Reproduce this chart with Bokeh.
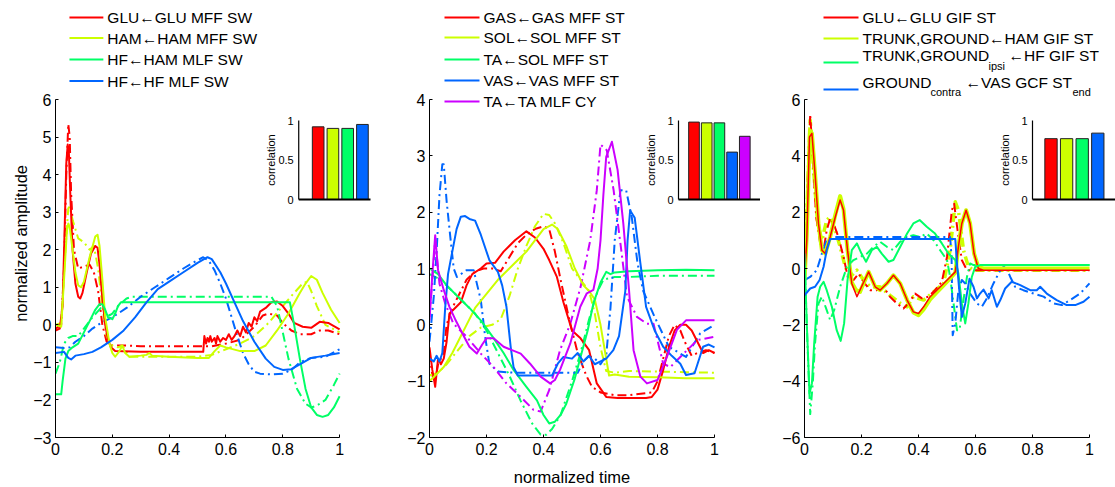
import math
from bokeh.plotting import figure
from bokeh.layouts import row, column
from bokeh.models import Range1d, FixedTicker, CustomJSTickFormatter
from bokeh.core.properties import value
from bokeh.embed import file_html
from bokeh.resources import INLINE

FONT = "Liberation Sans"
RED, YEL, GRN, BLU, PUR = "#ff0000", "#ccff00", "#00ff66", "#0066ff", "#cc00ff"

x_ticks = [0, 0.2, 0.4, 0.6, 0.8, 1]
p1_yticks = [-3, -2, -1, 0, 1, 2, 3, 4, 5, 6]
p2_yticks = [-2, -1, 0, 1, 2, 3, 4]
p3_yticks = [-6, -4, -2, 0, 2, 4, 6]
y_label = "normalized amplitude"
x_label = "normalized time"

# ---------------- panel 1 (swing) ----------------
p1_glu = [(0, -0.15), (0.015, -0.1), (0.025, 0.5), (0.032, 2.5), (0.038, 4.3), (0.043, 4.8), (0.047, 4.6),
          (0.052, 3.5), (0.06, 2.0), (0.07, 1.1), (0.08, 0.75), (0.087, 0.7), (0.095, 0.85), (0.11, 1.4),
          (0.125, 1.9), (0.14, 2.1), (0.148, 2.05), (0.155, 1.6), (0.165, 0.7), (0.175, 0.0), (0.185, -0.4),
          (0.195, -0.6), (0.21, -0.7), (0.3, -0.72), (0.4, -0.72), (0.52, -0.72), (0.524, -0.3), (0.53, -0.5),
          (0.535, -0.35), (0.54, -0.45), (0.545, -0.3), (0.55, -0.45), (0.56, -0.35), (0.565, -0.5),
          (0.57, -0.3), (0.58, -0.45), (0.59, -0.35), (0.6, -0.4), (0.61, -0.25), (0.62, -0.4), (0.63, -0.3),
          (0.64, -0.15), (0.65, -0.3), (0.66, -0.05), (0.67, -0.2), (0.68, 0.05), (0.69, -0.05), (0.7, 0.2),
          (0.71, 0.1), (0.72, 0.35), (0.74, 0.45), (0.76, 0.6), (0.78, 0.62), (0.8, 0.5), (0.82, 0.3),
          (0.84, 0.05), (0.87, -0.05), (0.9, -0.08), (0.93, 0.08), (0.96, 0.05), (1.0, -0.12)]
p1_glu_pred = [(0, -0.1), (0.02, 0.0), (0.03, 1.5), (0.038, 4.0), (0.045, 5.35), (0.05, 5.0), (0.055, 3.5),
               (0.065, 2.0), (0.08, 1.5), (0.1, 1.55), (0.12, 1.6), (0.135, 1.4), (0.15, 0.9), (0.165, 0.0),
               (0.18, -0.45), (0.2, -0.55), (0.25, -0.55), (0.3, -0.57), (0.4, -0.57), (0.5, -0.57),
               (0.55, -0.57), (0.6, -0.5), (0.65, -0.4), (0.7, -0.05), (0.73, 0.25), (0.75, 0.3), (0.78, 0.25),
               (0.8, 0.05), (0.83, -0.15), (0.86, -0.25), (0.9, -0.25), (0.93, -0.15), (0.96, -0.15), (1.0, -0.25)]
p1_ham = [(0, 0.0), (0.02, -0.05), (0.03, 1.2), (0.04, 2.5), (0.045, 2.7), (0.05, 2.6), (0.06, 2.0), (0.07, 1.4),
          (0.08, 1.05), (0.09, 1.0), (0.1, 1.15), (0.12, 1.8), (0.14, 2.35), (0.148, 2.4), (0.155, 2.1),
          (0.165, 1.2), (0.175, 0.2), (0.19, -0.5), (0.2, -0.75), (0.21, -0.85), (0.225, -0.7), (0.235, -0.55),
          (0.245, -0.75), (0.26, -0.85), (0.3, -0.82), (0.32, -0.8), (0.33, -0.75), (0.34, -0.82), (0.4, -0.85),
          (0.5, -0.88), (0.54, -0.88), (0.56, -0.7), (0.58, -0.55), (0.6, -0.6), (0.65, -0.7), (0.7, -0.7),
          (0.74, -0.55), (0.78, -0.15), (0.82, 0.3), (0.86, 0.85), (0.88, 1.1), (0.9, 1.3), (0.92, 1.2),
          (0.94, 0.85), (0.97, 0.4), (1.0, 0.05)]
p1_ham_pred = [(0, 0.0), (0.02, 0.05), (0.035, 2.0), (0.045, 3.1), (0.05, 3.15), (0.06, 2.8), (0.08, 2.3),
               (0.1, 2.2), (0.12, 2.0), (0.135, 2.1), (0.15, 1.5), (0.165, 0.5), (0.18, -0.3), (0.2, -0.55),
               (0.22, -0.6), (0.235, -0.55), (0.26, -0.85), (0.3, -0.85), (0.4, -0.85), (0.5, -0.85),
               (0.55, -0.8), (0.6, -0.65), (0.65, -0.5), (0.7, -0.3), (0.75, 0.05), (0.8, 0.5), (0.84, 0.85),
               (0.87, 1.1), (0.885, 1.15), (0.9, 0.9), (0.92, 0.5), (0.95, 0.0), (1.0, -0.2)]
p1_hfham = [(0, -1.85), (0.02, -1.85), (0.025, -1.5), (0.035, -0.9), (0.045, -0.7), (0.06, -0.6), (0.08, -0.5),
            (0.1, -0.2), (0.12, 0.1), (0.14, 0.4), (0.155, 0.55), (0.165, 0.55), (0.175, 0.4), (0.185, 0.2),
            (0.2, 0.15), (0.21, 0.3), (0.22, 0.5), (0.23, 0.6), (0.25, 0.6), (0.4, 0.6), (0.6, 0.6), (0.8, 0.6),
            (0.825, 0.6), (0.84, 0.0), (0.86, -0.9), (0.88, -1.7), (0.9, -2.2), (0.92, -2.4), (0.94, -2.45),
            (0.96, -2.4), (0.98, -2.2), (1.0, -1.9)]
p1_hfham_pred = [(0, -1.3), (0.015, -1.0), (0.03, -0.5), (0.045, -0.35), (0.06, -0.3), (0.08, -0.3),
                 (0.1, -0.1), (0.13, 0.2), (0.16, 0.45), (0.175, 0.35), (0.19, 0.25), (0.2, 0.3), (0.22, 0.5),
                 (0.25, 0.7), (0.27, 0.75), (0.4, 0.75), (0.6, 0.75), (0.76, 0.75), (0.78, 0.5), (0.8, -0.2),
                 (0.82, -0.9), (0.85, -1.7), (0.88, -2.1), (0.9, -2.2), (0.92, -2.15), (0.95, -2.0),
                 (0.98, -1.6), (1.0, -1.3)]
p1_hf = [(0, -0.75), (0.03, -0.72), (0.045, -0.88), (0.055, -0.92), (0.07, -0.82), (0.1, -0.78), (0.13, -0.72),
         (0.16, -0.6), (0.2, -0.4), (0.24, -0.15), (0.28, 0.2), (0.32, 0.6), (0.36, 0.95), (0.4, 1.15),
         (0.45, 1.4), (0.5, 1.65), (0.535, 1.8), (0.55, 1.75), (0.58, 1.4), (0.6, 1.1), (0.63, 0.6), (0.66, 0.1),
         (0.7, -0.45), (0.74, -0.9), (0.77, -1.12), (0.8, -1.2), (0.83, -1.18), (0.86, -1.05), (0.9, -0.88),
         (0.95, -0.82), (1.0, -0.75)]
p1_hf_pred = [(0, -0.6), (0.03, -0.62), (0.05, -0.6), (0.07, -0.45), (0.1, -0.3), (0.13, -0.1), (0.16, 0.05),
              (0.2, 0.2), (0.25, 0.45), (0.3, 0.75), (0.35, 1.0), (0.4, 1.25), (0.45, 1.5), (0.5, 1.72),
              (0.52, 1.8), (0.54, 1.7), (0.56, 1.45), (0.58, 1.1), (0.6, 0.7), (0.62, 0.2), (0.64, -0.3),
              (0.66, -0.75), (0.68, -1.05), (0.7, -1.25), (0.72, -1.3), (0.76, -1.32), (0.8, -1.3), (0.83, -1.2),
              (0.86, -1.0), (0.9, -0.88), (0.95, -0.85), (1.0, -0.65)]

# ---------------- panel 2 (stance) ----------------
p2_gas = [(0, -0.4), (0.01, -0.8), (0.02, -1.1), (0.03, -0.6), (0.04, -0.7), (0.05, -0.6), (0.06, -0.3), (0.07, 0.2),
          (0.09, 0.3), (0.11, 0.4), (0.13, 0.7), (0.15, 0.9), (0.18, 1.0), (0.2, 1.09), (0.23, 1.1), (0.26, 1.3),
          (0.3, 1.5), (0.34, 1.66), (0.37, 1.55), (0.4, 1.35), (0.42, 1.15), (0.447, 0.85), (0.47, 0.4),
          (0.5, -0.1), (0.53, -0.24), (0.56, -0.45), (0.587, -1.04), (0.62, -1.28), (0.66, -1.3), (0.7, -1.3),
          (0.76, -1.3), (0.78, -1.28), (0.8, -1.15), (0.82, -0.8), (0.84, -0.4), (0.86, -0.1), (0.88, 0.0),
          (0.9, 0.0), (0.92, -0.1), (0.94, -0.3), (0.96, -0.5), (0.98, -0.45), (1.0, -0.5)]
p2_gas_pred = [(0, -0.5), (0.01, -0.9), (0.02, -1.0), (0.03, -0.7), (0.05, -0.5), (0.06, 0.0), (0.08, 0.3),
               (0.1, 0.5), (0.13, 0.8), (0.16, 0.95), (0.19, 1.0), (0.22, 1.0), (0.25, 0.95), (0.28, 1.2),
               (0.31, 1.45), (0.34, 1.6), (0.37, 1.7), (0.4, 1.75), (0.42, 1.7), (0.44, 1.3), (0.46, 0.8),
               (0.49, 0.1), (0.52, -0.5), (0.55, -0.9), (0.57, -1.1), (0.6, -1.2), (0.65, -1.25), (0.7, -1.25),
               (0.78, -1.2), (0.8, -1.0), (0.82, -0.6), (0.84, -0.2), (0.86, 0.0), (0.88, -0.1), (0.9, -0.35),
               (0.92, -0.55), (0.94, -0.5), (0.97, -0.45), (1.0, -0.5)]
p2_sol = [(0, -1.0), (0.02, -0.9), (0.05, -0.75), (0.08, -0.5), (0.1, -0.3), (0.13, 0.0), (0.16, 0.3), (0.2, 0.55),
          (0.24, 0.8), (0.28, 1.0), (0.31, 1.15), (0.34, 1.3), (0.37, 1.5), (0.4, 1.7), (0.43, 1.78), (0.45, 1.7),
          (0.48, 1.4), (0.51, 1.0), (0.54, 0.7), (0.56, 0.6), (0.58, 0.45), (0.6, 0.0), (0.62, -0.6),
          (0.63, -0.9), (0.65, -0.88), (0.7, -0.92), (0.8, -0.93), (0.9, -0.95), (1.0, -0.95)]
p2_sol_pred = [(0, -0.9), (0.03, -0.85), (0.06, -0.7), (0.1, -0.45), (0.14, -0.2), (0.18, -0.05), (0.22, 0.0),
               (0.25, 0.1), (0.28, 0.5), (0.31, 1.0), (0.34, 1.4), (0.37, 1.75), (0.4, 1.97), (0.42, 1.95),
               (0.44, 1.8), (0.47, 1.45), (0.5, 1.0), (0.53, 0.8), (0.56, 0.6), (0.58, 0.2), (0.6, -0.4),
               (0.62, -0.82), (0.65, -0.85), (0.7, -0.82), (0.8, -0.83), (0.9, -0.84), (1.0, -0.85)]
p2_tasol = [(0, 1.0), (0.03, 0.9), (0.06, 0.7), (0.1, 0.5), (0.14, 0.3), (0.18, 0.08), (0.22, -0.2), (0.26, -0.5),
            (0.295, -0.8), (0.34, -1.1), (0.377, -1.34), (0.4, -1.6), (0.42, -1.75), (0.44, -1.72), (0.46, -1.6),
            (0.48, -1.4), (0.51, -0.95), (0.53, -0.57), (0.555, -0.1), (0.575, 0.38), (0.6, 0.75), (0.62, 0.94),
            (0.635, 0.9), (0.65, 0.93), (0.7, 0.95), (0.8, 0.97), (0.9, 0.98), (1.0, 0.97)]
p2_tasol_pred = [(0, 0.9), (0.04, 0.8), (0.08, 0.6), (0.12, 0.4), (0.16, 0.2), (0.2, -0.1), (0.24, -0.5),
                 (0.28, -0.9), (0.32, -1.35), (0.36, -1.75), (0.39, -1.95), (0.41, -1.95), (0.43, -1.85),
                 (0.46, -1.6), (0.5, -1.0), (0.53, -0.5), (0.56, 0.1), (0.59, 0.6), (0.61, 0.8), (0.65, 0.85),
                 (0.7, 0.85), (0.8, 0.87), (0.9, 0.87), (1.0, 0.87)]
p2_vas = [(0, -0.6), (0.015, -0.65), (0.025, -0.55), (0.035, -0.65), (0.045, -0.5), (0.055, 0.3), (0.065, 0.9),
          (0.08, 1.3), (0.095, 1.7), (0.11, 1.92), (0.125, 1.93), (0.14, 1.88), (0.16, 1.85), (0.18, 1.6),
          (0.21, 1.15), (0.24, 0.94), (0.255, 0.7), (0.27, 0.32), (0.285, -0.4), (0.295, -0.75), (0.31, -0.9),
          (0.36, -0.9), (0.43, -0.9), (0.45, -0.69), (0.47, -0.57), (0.5, -0.6), (0.52, -0.5), (0.54, -0.65),
          (0.56, -0.55), (0.58, -0.7), (0.6, -0.65), (0.62, -0.6), (0.645, -0.45), (0.665, -0.2), (0.687, 0.6),
          (0.695, 1.5), (0.704, 2.03), (0.72, 1.9), (0.74, 1.09), (0.76, 0.32), (0.79, -0.1), (0.82, -0.39),
          (0.85, -0.55), (0.88, -0.69), (0.9, -0.89), (0.93, -0.86), (0.96, -0.39), (0.98, -0.35), (1.0, -0.4)]
p2_vas_pred = [(0, -0.3), (0.015, 0.5), (0.025, 1.3), (0.035, 2.3), (0.045, 2.85), (0.05, 2.85), (0.06, 2.2),
               (0.073, 1.56), (0.085, 1.0), (0.096, 0.85), (0.11, 0.9), (0.13, 0.97), (0.155, 0.97), (0.18, 0.44),
               (0.195, -0.2), (0.21, -0.69), (0.24, -0.83), (0.3, -0.85), (0.4, -0.85), (0.52, -0.85),
               (0.54, -0.65), (0.56, -0.55), (0.58, -0.6), (0.6, -0.7), (0.62, -0.55), (0.635, 0.3), (0.65, 1.5),
               (0.67, 2.39), (0.69, 2.39), (0.71, 1.9), (0.73, 1.09), (0.75, 0.6), (0.79, 0.14), (0.84, -0.39),
               (0.9, -0.57), (0.95, -0.15), (1.0, 0.0)]
p2_ta = [(0, 0.08), (0.01, 0.9), (0.02, 1.59), (0.03, 0.97), (0.05, 0.62), (0.07, 0.32), (0.09, 0.1), (0.11, -0.1),
         (0.14, -0.39), (0.166, -0.51), (0.185, -0.35), (0.2, -0.24), (0.225, -0.24), (0.26, -0.39), (0.32, -0.51),
         (0.353, -0.69), (0.39, -0.92), (0.423, -1.04), (0.44, -0.98), (0.458, -0.8), (0.494, -0.33),
         (0.529, 0.32), (0.552, 0.56), (0.575, 0.62), (0.59, 1.0), (0.6, 1.5), (0.61, 2.3), (0.62, 2.98),
         (0.64, 3.25), (0.66, 2.75), (0.68, 1.8), (0.7, 0.62), (0.716, -0.45), (0.74, -0.92), (0.763, -1.04),
         (0.8, -0.98), (0.833, -0.57), (0.868, -0.09), (0.9, 0.08), (1.0, 0.08)]
p2_ta_pred = [(0, 0.14), (0.01, 0.8), (0.02, 1.5), (0.035, 0.73), (0.055, 0.38), (0.084, 0.02), (0.13, -0.21),
              (0.18, -0.51), (0.225, -0.75), (0.27, -1.04), (0.32, -1.28), (0.365, -1.51), (0.39, -1.54),
              (0.42, -1.16), (0.458, -0.45), (0.494, 0.02), (0.53, 0.67), (0.564, 1.5), (0.587, 2.39),
              (0.6, 3.2), (0.622, 3.1), (0.646, 2.39), (0.67, 1.44), (0.693, 0.5), (0.728, 0.14), (0.763, 0.02),
              (0.786, 0.02), (0.82, -0.69), (0.845, -0.75), (0.88, -0.57), (0.94, -0.27), (1.0, -0.21)]

# ---------------- panel 3 (stance, ground) ----------------
p3_glu = [(0, -0.41), (0.008, 1.0), (0.0175, 4.67), (0.026, 4.8), (0.037, 3.37), (0.049, 1.6), (0.061, 0.65),
          (0.073, 0.53), (0.09, 1.12), (0.108, 1.83), (0.125, 2.43), (0.137, 2.07), (0.151, 0.65), (0.166, -0.53),
          (0.184, -1.0), (0.2, -0.65), (0.225, -0.12), (0.248, -0.65), (0.265, -0.77), (0.289, -0.53),
          (0.312, -0.24), (0.336, -0.53), (0.36, -1.12), (0.382, -1.54), (0.4, -1.6), (0.418, -1.36),
          (0.441, -1.0), (0.464, -0.77), (0.488, -0.53), (0.511, -0.3), (0.529, -0.12), (0.54, 0.77),
          (0.552, 1.6), (0.567, 2.07), (0.581, 1.6), (0.595, 0.53), (0.61, 0.0), (0.628, -0.06), (1.0, -0.06)]
p3_ham = [(0, -0.41), (0.008, 1.2), (0.019, 4.9), (0.026, 4.8), (0.037, 3.37), (0.049, 1.6), (0.061, 0.65),
          (0.073, 0.53), (0.09, 1.12), (0.108, 1.9), (0.125, 2.57), (0.137, 2.1), (0.151, 0.65), (0.166, -0.5),
          (0.181, -0.77), (0.195, -0.83), (0.2, -0.7), (0.225, -0.12), (0.248, -0.65), (0.265, -0.77),
          (0.289, -0.53), (0.312, -0.24), (0.336, -0.53), (0.36, -1.12), (0.382, -1.56), (0.4, -1.66),
          (0.418, -1.45), (0.441, -1.1), (0.464, -0.85), (0.488, -0.6), (0.511, -0.35), (0.529, -0.15),
          (0.54, 0.77), (0.552, 1.6), (0.567, 2.07), (0.581, 1.6), (0.595, 0.53), (0.61, 0.05), (0.628, 0.0),
          (1.0, 0.0)]
p3_glu_pred = [(0, -0.3), (0.01, 2.78), (0.02, 5.48), (0.029, 3.96), (0.041, 1.83), (0.055, 0.89), (0.067, 0.65),
               (0.078, 1.36), (0.09, 1.78), (0.102, 1.6), (0.119, 1.12), (0.137, 0.41), (0.154, -0.41),
               (0.172, -0.41), (0.19, -0.18), (0.207, -0.47), (0.23, -0.77), (0.254, -0.77), (0.277, -0.65),
               (0.3, -1.0), (0.324, -1.24), (0.347, -1.42), (0.365, -1.24), (0.388, -0.89), (0.412, -1.06),
               (0.435, -1.0), (0.458, -0.77), (0.482, -0.47), (0.5, 0.41), (0.517, 2.07), (0.525, 2.3),
               (0.537, 1.36), (0.552, 0.3), (0.57, -0.06), (1.0, -0.06)]
p3_ham_pred = [(0, -0.24), (0.02, 5.27), (0.032, 3.49), (0.046, 1.6), (0.061, 1.0), (0.078, 1.72), (0.09, 1.83),
               (0.108, 1.36), (0.125, 0.77), (0.143, 0.06), (0.16, -0.3), (0.184, -0.06), (0.207, -0.41),
               (0.23, -0.65), (0.265, -0.65), (0.3, -0.95), (0.336, -1.24), (0.36, -1.36), (0.382, -1.0),
               (0.418, -1.12), (0.453, -0.83), (0.488, -0.53), (0.511, 0.65), (0.529, 2.37), (0.54, 2.07),
               (0.558, 0.65), (0.575, 0.06), (0.593, -0.06), (1.0, -0.06)]
p3_hf = [(0, 0.53), (0.008, -1.95), (0.0175, -4.44), (0.026, -4.08), (0.034, -2.66), (0.046, -1.0), (0.055, -0.65),
         (0.067, -0.47), (0.078, -0.77), (0.096, -1.36), (0.113, -2.19), (0.127, -2.57), (0.139, -1.95),
         (0.151, -0.41), (0.166, 0.65), (0.184, 0.89), (0.2, 0.53), (0.216, 0.24), (0.236, 0.65), (0.254, 0.77),
         (0.271, 0.53), (0.295, 0.24), (0.312, 0.3), (0.336, 0.77), (0.36, 1.24), (0.382, 1.6), (0.404, 1.72),
         (0.429, 1.48), (0.458, 1.24), (0.482, 0.89), (0.505, 0.53), (0.529, 0.3), (0.54, -0.18), (0.552, -1.24),
         (0.564, -1.95), (0.575, -1.24), (0.587, -0.3), (0.599, 0.06), (0.616, 0.12), (1.0, 0.12)]
p3_hf_pred = [(0, 0.41), (0.01, -2.54), (0.02, -5.17), (0.029, -4.08), (0.037, -2.66), (0.049, -1.24),
              (0.061, -1.0), (0.078, -1.48), (0.09, -1.83), (0.104, -1.48), (0.125, -0.65), (0.149, 0.06),
              (0.172, 0.3), (0.195, 0.41), (0.219, 0.53), (0.242, 0.77), (0.265, 0.95), (0.289, 0.77),
              (0.312, 0.65), (0.336, 0.95), (0.36, 1.12), (0.382, 1.18), (0.406, 1.12), (0.429, 1.24),
              (0.453, 1.0), (0.476, 0.65), (0.5, 0.3), (0.511, -0.3), (0.523, -1.24), (0.535, -2.19),
              (0.544, -2.19), (0.556, -1.24), (0.57, -0.3), (0.581, 0.18), (0.593, 0.12), (1.0, 0.12)]
p3_vas = [(0, -0.95), (0.02, -0.71), (0.037, -0.65), (0.053, -0.41), (0.067, 0.06), (0.078, 0.65), (0.09, 1.05),
          (0.529, 1.05), (0.535, 0.18), (0.543, -0.77), (0.552, -1.72), (0.564, -1.24), (0.579, -0.36),
          (0.593, -0.65), (0.605, -1.06), (0.616, -0.89), (0.628, -0.75), (0.646, -1.06), (0.657, -0.77),
          (0.675, -1.36), (0.687, -1.12), (0.704, -0.71), (0.727, -0.47), (0.757, -0.59), (0.792, -0.77),
          (0.815, -0.77), (0.827, -0.65), (0.85, -0.89), (0.885, -1.12), (0.92, -1.3), (0.95, -1.3),
          (0.979, -1.18), (1.0, -1.0)]
p3_vas_pred = [(0, -0.41), (0.02, -0.3), (0.043, -0.06), (0.061, 0.53), (0.078, 1.0), (0.096, 1.12), (0.511, 1.12),
               (0.516, 0.41), (0.52, -2.37), (0.529, -1.95), (0.54, -0.77), (0.552, -0.41), (0.564, -0.53),
               (0.581, -0.89), (0.605, -1.24), (0.622, -1.36), (0.64, -1.06), (0.663, -0.53), (0.687, -0.06),
               (0.704, 0.12), (0.722, -0.3), (0.739, -0.65), (0.768, -0.77), (0.804, -0.89), (0.839, -1.0),
               (0.874, -1.24), (0.903, -1.3), (0.932, -1.12), (0.967, -0.89), (1.0, -0.53)]

# legends and correlation insets
p1_labels = ["GLU\u2190GLU MFF SW", "HAM\u2190HAM MFF SW", "HF\u2190HAM MLF SW", "HF\u2190HF MLF SW"]
p2_labels = ["GAS\u2190GAS MFF ST", "SOL\u2190SOL MFF ST", "TA\u2190SOL MFF ST", "VAS\u2190VAS MFF ST", "TA\u2190TA MLF CY"]
p1_corr = [0.92, 0.90, 0.90, 0.95]
p2_corr = [0.98, 0.97, 0.97, 0.60, 0.80]
p3_corr = [0.77, 0.77, 0.77, 0.84]

DASH = "9 4 2 4"
PXU_X = 285.0
PANEL_H = 465
TICK_FS = "16px"
LEG_FS = "15.5px"


def unzip(pairs):
    return [a for a, b in pairs], [b for a, b in pairs]


def make_panel(fig_x0, fig_w, frame_l, frame_r, ymin, ymax, yticks):
    ppu = 338.0 / (ymax - ymin)
    ytop = ymax + 99.0 / ppu

    def fx(px):
        return (px - frame_l) / PXU_X

    def fy(py):
        return ytop - py / ppu

    p = figure(width=fig_w, height=PANEL_H, x_range=Range1d(0, fx(frame_r)), y_range=Range1d(ymin, ytop),
               output_backend="svg", toolbar_location=None,
               min_border_left=frame_l - fig_x0, min_border_right=fig_x0 + fig_w - frame_r,
               min_border_top=0, min_border_bottom=PANEL_H - 437)
    p.outline_line_color = None
    p.xgrid.visible = False
    p.ygrid.visible = False
    fmt = CustomJSTickFormatter(code="var a = Math.round(Math.abs(tick)*1000)/1000; return (tick < 0 ? '\u2212' : '') + String(a);")
    for ax, tks, bnds in ((p.xaxis[0], x_ticks, (0, 1)), (p.yaxis[0], yticks, (ymin, ymax))):
        ax.ticker = FixedTicker(ticks=tks)
        ax.bounds = bnds
        ax.formatter = fmt
        ax.axis_line_color = "black"
        ax.axis_line_width = 1
        ax.major_tick_in = 3
        ax.major_tick_out = 0
        ax.major_tick_line_color = "black"
        ax.minor_tick_line_color = None
        ax.major_label_text_font = FONT
        ax.major_label_text_font_size = TICK_FS
        ax.major_label_text_color = "black"
    p.xaxis[0].major_label_standoff = 5
    p.yaxis[0].major_label_standoff = 4
    return p, fx, fy


def draw_lines(p, series, widths=None):
    for i, (pairs, color, dash) in enumerate(series):
        t, v = unzip(pairs)
        w = 2 if widths is None else widths[i]
        p.line(t, v, line_color=color, line_width=w, line_dash=dash, line_join="round")


def draw_legend(p, fx, fy, x0, x1, rows, colors):
    for yrow, c in zip(rows, colors):
        p.line([fx(x0), fx(x1)], [fy(yrow), fy(yrow)], line_color=c, line_width=2)


def draw_texts(p, fx, fy, items, size=LEG_FS):
    for (tx, ty, txt) in items:
        p.text([fx(tx)], [fy(ty)], text=[txt], text_baseline="middle", text_align="left",
               text_font=value(FONT), text_font_size=size, text_color="black")


def draw_inset(p, fx, fy, axl, axr, c1, sp, width, corr, colors):
    xs0 = 1 - (c1 - axl) / sp
    xs1 = 1 + (axr - c1) / sp
    sub = p.subplot(x_source=Range1d(xs0, xs1), y_source=Range1d(0, 1),
                    x_target=Range1d(fx(axl), fx(axr)), y_target=Range1d(fy(199), fy(120)))
    pos = list(range(1, len(corr) + 1))
    sub.vbar(x=pos, top=corr, bottom=0, width=width, fill_color=colors[:len(corr)], line_color="#222222",
             line_width=1)
    sub.line([xs0, xs0], [0, 1], line_color="black", line_width=1.2)
    sub.line([xs0, xs1], [0, 0], line_color="black", line_width=2.2)
    sub.text([xs0] * 3, [0, 0.5, 1], text=["0", "0.5", "1"], text_align="right", text_baseline="middle",
             x_offset=-5, text_font=value(FONT), text_font_size="11px", text_color="black")
    sub.text([xs0], [0.5], text=["correlation"], angle=math.pi / 2, text_align="center", text_baseline="middle",
             x_offset=-28, text_font=value(FONT), text_font_size="11px", text_color="black")


def blank(w, h):
    f = figure(width=w, height=h, x_range=Range1d(0, w), y_range=Range1d(0, h), output_backend="svg",
               toolbar_location=None, x_axis_type=None, y_axis_type=None, min_border=0)
    f.outline_line_color = None
    f.xgrid.visible = False
    f.ygrid.visible = False
    return f


# ---- y label strip
YL_W = 30
ylab = blank(YL_W, PANEL_H)
ylab.text([20], [PANEL_H - 258.5], text=[y_label], angle=math.pi / 2, text_align="center", text_baseline="middle",
          text_font=value(FONT), text_font_size="16.5px", text_color="black")

# ---- panel 1
p1, fx1, fy1 = make_panel(YL_W, 380 - YL_W, 54, 370, -3, 6, p1_yticks)
draw_lines(p1, [(p1_glu_pred, RED, DASH), (p1_ham_pred, YEL, DASH), (p1_hfham_pred, GRN, DASH),
                (p1_hf_pred, BLU, DASH), (p1_glu, RED, "solid"), (p1_ham, YEL, "solid"),
                (p1_hfham, GRN, "solid"), (p1_hf, BLU, "solid")])
rows1 = [17, 37.5, 59, 80.5]
draw_legend(p1, fx1, fy1, 68, 102, rows1, [RED, YEL, GRN, BLU])
draw_texts(p1, fx1, fy1, [(106, r, lab) for r, lab in zip(rows1, p1_labels)])
draw_inset(p1, fx1, fy1, 298, 371, 317.5, 14.8, 0.79, p1_corr, [RED, YEL, GRN, BLU])

# ---- panel 2
p2, fx2, fy2 = make_panel(380, 380, 429, 760, -2, 4, p2_yticks)
draw_lines(p2, [(p2_gas_pred, RED, DASH), (p2_sol_pred, YEL, DASH), (p2_tasol_pred, GRN, DASH),
                (p2_vas_pred, BLU, DASH), (p2_ta_pred, PUR, DASH), (p2_gas, RED, "solid"),
                (p2_sol, YEL, "solid"), (p2_tasol, GRN, "solid"), (p2_vas, BLU, "solid"), (p2_ta, PUR, "solid")])
rows2 = [17, 37, 59, 80, 101]
draw_legend(p2, fx2, fy2, 444, 479, rows2, [RED, YEL, GRN, BLU, PUR])
draw_texts(p2, fx2, fy2, [(483, r, lab) for r, lab in zip(rows2, p2_labels)])
draw_inset(p2, fx2, fy2, 678, 760, 693.5, 12.7, 0.84, p2_corr, [RED, YEL, GRN, BLU, PUR])

# ---- panel 3
p3, fx3, fy3 = make_panel(760, 355, 804, 1115, -6, 6, p3_yticks)
draw_lines(p3, [(p3_ham_pred, YEL, DASH), (p3_glu_pred, RED, DASH), (p3_hf_pred, GRN, DASH),
                (p3_vas_pred, BLU, DASH), (p3_ham, YEL, "solid"), (p3_glu, RED, "solid"),
                (p3_hf, GRN, "solid"), (p3_vas, BLU, "solid")],
           widths=[3.5, 2, 2, 2, 4, 1.5, 2, 2])
draw_legend(p3, fx3, fy3, 823, 858, [17, 38, 62, 89], [RED, YEL, GRN, BLU])
draw_texts(p3, fx3, fy3, [(862, 17, "GLU\u2190GLU GIF ST"), (862, 38, "TRUNK,GROUND\u2190HAM GIF ST"),
                          (862, 55, "TRUNK,GROUND"), (1008, 55, "\u2190HF GIF ST"),
                          (862, 82, "GROUND"), (965, 82, "\u2190VAS GCF ST")])
draw_texts(p3, fx3, fy3, [(988, 65, "ipsi"), (930, 91, "contra"), (1072, 91, "end")], size="11px")
draw_inset(p3, fx3, fy3, 1032, 1115, 1050.5, 15.6, 0.79, p3_corr, [RED, YEL, GRN, BLU])

# ---- x label strip
XL_H = 487 - PANEL_H
xlab = blank(1115, XL_H)
xlab.text([571.5], [XL_H - (476 - PANEL_H)], text=[x_label], text_align="center", text_baseline="middle",
          text_font=value(FONT), text_font_size="16.5px", text_color="black")

layout = column(row(ylab, p1, p2, p3, spacing=0), xlab, spacing=0)
open("out.html", "w").write(file_html(layout, INLINE))
